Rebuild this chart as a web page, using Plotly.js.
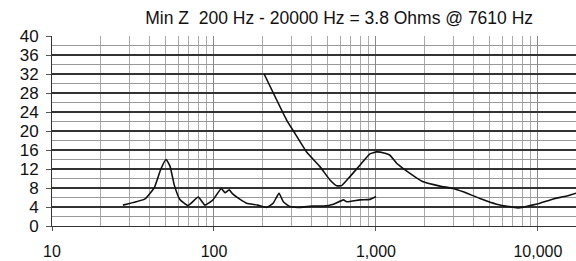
<!DOCTYPE html>
<html><head><meta charset="utf-8">
<script src="https://cdn.plot.ly/plotly-3.0.1.min.js"></script>
<style>html,body{margin:0;padding:0;background:#fff}#c{width:576px;height:261px}</style>
</head><body><div id="c"></div>
<script>
// Low-frequency impedance curve
const freqA = [27.4, 37.5, 43, 47, 50.6, 53.5, 57, 61.6, 69, 80, 88, 98.6, 111, 117, 124, 131, 145, 159, 186, 211, 232, 252, 268, 294, 340, 401, 473, 546, 630, 660, 796, 918, 1000];
const zA    = [4.4, 5.7, 8.2, 12.0, 14.0, 12.6, 8.5, 5.6, 4.3, 6.1, 4.4, 5.5, 7.9, 7.0, 7.6, 6.7, 5.6, 4.8, 4.4, 3.9, 4.8, 6.9, 5.1, 4.1, 3.9, 4.2, 4.2, 4.6, 5.5, 5.1, 5.5, 5.6, 6.2];
// High-frequency impedance curve
const freqB = [204, 281, 316, 373, 451, 520, 572, 614, 691, 796, 918, 1009, 1137, 1220, 1343, 1475, 1960, 2483, 3000, 3457, 4384, 5556, 6880, 7610, 8930, 10280, 12440, 15030, 17170, 20000];
const zB    = [32.0, 22.3, 19.5, 15.6, 12.5, 9.7, 8.5, 8.5, 10.4, 12.8, 15.2, 15.6, 15.3, 14.9, 13.2, 12.1, 9.3, 8.4, 7.9, 7.2, 5.8, 4.6, 4.0, 3.8, 4.3, 4.8, 5.7, 6.3, 6.9, 7.3];
const xTickVals = [10, 100, 1000, 10000];
const xTickText = ["10", "100", "1,000", "10,000"];
const xMinorVals = [20,30,40,50,60,70,80,90,200,300,400,500,600,700,800,900,2000,3000,4000,5000,6000,7000,8000,9000,20000];
const titleText = "Min Z  200 Hz - 20000 Hz = 3.8 Ohms @ 7610 Hz";

const lineStyle = {color: '#111', width: 1.6, shape: 'spline', smoothing: 0.4};
const data = [
  {x: freqA, y: zA, type: 'scatter', mode: 'lines', line: lineStyle, hoverinfo: 'skip'},
  {x: freqB, y: zB, type: 'scatter', mode: 'lines', line: lineStyle, hoverinfo: 'skip'}
];
const font = {family: '"Liberation Sans", Arial, sans-serif', color: '#111'};
const layout = {
  width: 576, height: 261,
  margin: {l: 52, r: 0, t: 36, b: 35},
  paper_bgcolor: '#fff', plot_bgcolor: '#fff',
  showlegend: false,
  font: font,
  title: {text: titleText, font: {size: 17.5, family: font.family, color: '#111'}, x: 0.548, xanchor: 'center', y: 0.93, yanchor: 'middle', xref: 'paper'},
  xaxis: {
    type: 'log', range: [1, 4.235],
    tickmode: 'array', tickvals: xTickVals, ticktext: xTickText,
    ticks: 'outside', ticklen: 4, tickcolor: '#555', tickwidth: 1,
    tickfont: {size: 16, family: font.family, color: '#111'},
    ticklabelstandoff: 7,
    showgrid: true, gridcolor: '#888', gridwidth: 1,
    minor: {tickmode: 'array', tickvals: xMinorVals, showgrid: true, gridcolor: '#aaa', gridwidth: 1, ticks: ''},
    showline: true, linecolor: '#333', linewidth: 1,
    zeroline: false, fixedrange: true
  },
  yaxis: {
    range: [0, 40], tickmode: 'linear', tick0: 0, dtick: 4,
    ticks: 'outside', ticklen: 5, tickcolor: '#555', tickwidth: 1,
    tickfont: {size: 17, family: font.family, color: '#111'},
    ticklabelstandoff: 4,
    showgrid: true, gridcolor: '#333', gridwidth: 1.3,
    minor: {tick0: 0, dtick: 2, showgrid: true, gridcolor: '#999', gridwidth: 1, ticks: ''},
    showline: true, linecolor: '#333', linewidth: 1,
    zeroline: false, fixedrange: true
  }
};
Plotly.newPlot('c', data, layout, {displayModeBar: false, staticPlot: true});
</script>
</body></html>
